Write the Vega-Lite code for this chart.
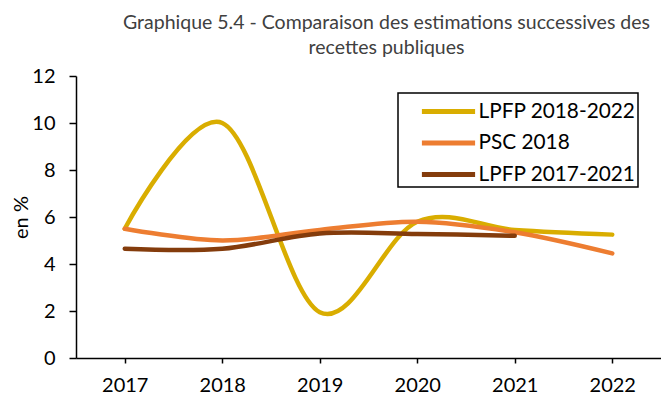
{
  "$schema": "https://vega.github.io/schema/vega-lite/v6.json",
  "width": 585,
  "height": 282,
  "autosize": {"type": "none"},
  "padding": {"left": 76, "top": 76, "right": 0, "bottom": 43},
  "background": "white",
  "title": {
    "text": ["Graphique 5.4 - Comparaison des estimations successives des", "recettes publiques"],
    "anchor": "middle",
    "dx": 18,
    "offset": 8,
    "font": "Lato",
    "fontSize": 19.5,
    "fontWeight": "normal",
    "color": "#404040",
    "lineHeight": 25
  },
  "data": {
    "values": [
      {"year": "2017", "series": "LPFP 2018-2022", "value": 5.5},
      {"year": "2018", "series": "LPFP 2018-2022", "value": 10.0},
      {"year": "2019", "series": "LPFP 2018-2022", "value": 1.95},
      {"year": "2020", "series": "LPFP 2018-2022", "value": 5.8},
      {"year": "2021", "series": "LPFP 2018-2022", "value": 5.45},
      {"year": "2022", "series": "LPFP 2018-2022", "value": 5.25},
      {"year": "2017", "series": "PSC 2018", "value": 5.5},
      {"year": "2018", "series": "PSC 2018", "value": 5.0},
      {"year": "2019", "series": "PSC 2018", "value": 5.45},
      {"year": "2020", "series": "PSC 2018", "value": 5.8},
      {"year": "2021", "series": "PSC 2018", "value": 5.35},
      {"year": "2022", "series": "PSC 2018", "value": 4.45},
      {"year": "2017", "series": "LPFP 2017-2021", "value": 4.65},
      {"year": "2018", "series": "LPFP 2017-2021", "value": 4.65},
      {"year": "2019", "series": "LPFP 2017-2021", "value": 5.3},
      {"year": "2020", "series": "LPFP 2017-2021", "value": 5.28},
      {"year": "2021", "series": "LPFP 2017-2021", "value": 5.2}
    ]
  },
  "mark": {"type": "line", "interpolate": "cardinal", "tension": 0, "strokeWidth": 4.5, "strokeCap": "round"},
  "encoding": {
    "x": {
      "field": "year",
      "type": "ordinal",
      "scale": {"type": "point", "padding": 0.5},
      "axis": {
        "title": null,
        "labelAngle": 0,
        "labelFont": "Lato",
        "labelFontSize": 20,
        "labelColor": "#000000",
        "labelPadding": 12,
        "tickSize": 5,
        "tickColor": "#000000",
        "tickWidth": 1.5,
        "domainColor": "#000000",
        "domainWidth": 1.5,
        "grid": false
      }
    },
    "y": {
      "field": "value",
      "type": "quantitative",
      "scale": {"domain": [0, 12], "nice": false, "zero": true},
      "axis": {
        "title": "en %",
        "titleFont": "Lato",
        "titleFontSize": 20,
        "titleFontWeight": "normal",
        "titleColor": "#000000",
        "titlePadding": 0,
        "values": [0, 2, 4, 6, 8, 10, 12],
        "labelFont": "Lato",
        "labelFontSize": 20,
        "labelColor": "#000000",
        "labelPadding": 14,
        "tickSize": 7,
        "tickColor": "#000000",
        "tickWidth": 1.5,
        "domainColor": "#000000",
        "domainWidth": 1.5,
        "grid": false
      }
    },
    "color": {
      "field": "series",
      "type": "nominal",
      "scale": {
        "domain": ["LPFP 2018-2022", "PSC 2018", "LPFP 2017-2021"],
        "range": ["#D9AD00", "#ED7D31", "#843C0C"]
      },
      "legend": {
        "title": null,
        "orient": "none",
        "legendX": 322,
        "legendY": 17,
        "symbolType": "M-1.9,0H1.9",
        "symbolSize": 784,
        "symbolStrokeWidth": 5,
        "symbolOffset": 32,
        "labelFont": "Lato",
        "labelFontSize": 20.8,
        "labelColor": "#000000",
        "labelOffset": 13.5,
        "labelLimit": 400,
        "rowPadding": 4.5,
        "padding": 2,
        "strokeColor": "#000000",
        "fillColor": "white",
        "cornerRadius": 0,
        "encode": {
          "legend": {"update": {"strokeWidth": {"value": 1.5}, "width": {"value": 257}}}
        }
      }
    }
  },
  "config": {"view": {"stroke": null}}
}
